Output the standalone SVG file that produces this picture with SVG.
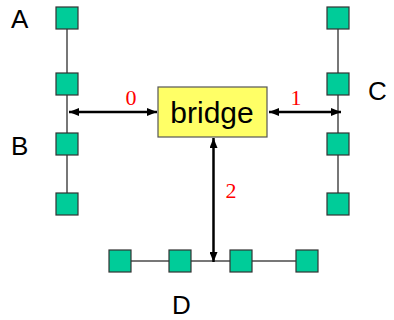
<svg xmlns="http://www.w3.org/2000/svg" width="394" height="320" viewBox="0 0 394 320">
<style>
.seg{stroke:#777;stroke-width:2;fill:none}
.st{fill:#00CC99;stroke:#333;stroke-width:1.2}
.lbl{font-family:"Liberation Sans",Arial,sans-serif;font-size:26px;fill:#000}
.num{font-family:"Liberation Serif","Times New Roman",serif;font-size:22px;fill:#FF0000;text-anchor:middle}
.arr{stroke:#000;stroke-width:2.5;fill:none;marker-start:url(#ah);marker-end:url(#ah)}
</style>
<defs>
<marker id="ah" markerUnits="userSpaceOnUse" viewBox="0 0 10 8" refX="10" refY="4" markerWidth="10" markerHeight="8" orient="auto-start-reverse">
<path d="M0,0 L10,4 L0,8 Z" fill="#000"/>
</marker>
</defs>
<g id="segment-lines">
<line class="seg" x1="67" y1="18" x2="67" y2="204"/>
<line class="seg" x1="338" y1="18" x2="338" y2="204"/>
<line class="seg" x1="120" y1="261" x2="307" y2="261"/>
</g>
<g id="lan-A">
<rect class="st" x="56" y="7" width="22" height="22"/>
<text class="lbl" x="11" y="28">A</text>
</g>
<g id="lan-B">
<rect class="st" x="56" y="73" width="22" height="22"/>
<rect class="st" x="56" y="133" width="22" height="22"/>
<rect class="st" x="56" y="193" width="22" height="22"/>
<text class="lbl" x="11" y="155">B</text>
</g>
<g id="lan-C">
<rect class="st" x="327" y="7" width="22" height="22"/>
<rect class="st" x="327" y="73" width="22" height="22"/>
<rect class="st" x="327" y="133" width="22" height="22"/>
<rect class="st" x="327" y="193" width="22" height="22"/>
<text class="lbl" x="368" y="100">C</text>
</g>
<g id="lan-D">
<rect class="st" x="109" y="250" width="22" height="22"/>
<rect class="st" x="169" y="250" width="22" height="22"/>
<rect class="st" x="230" y="250" width="22" height="22"/>
<rect class="st" x="296" y="250" width="22" height="22"/>
<text class="lbl" x="172" y="314">D</text>
</g>
<g id="bridge">
<rect x="158" y="87" width="109" height="50" fill="#FFFF66" stroke="#555" stroke-width="1.2"/>
<text x="212" y="123" font-family="'Liberation Sans',Arial,sans-serif" font-size="30" text-anchor="middle" fill="#000">bridge</text>
</g>
<g id="connectors">
<line class="arr" x1="69" y1="112" x2="157" y2="112"/>
<line class="arr" x1="269" y1="112" x2="341" y2="112"/>
<line class="arr" x1="213.5" y1="138" x2="213.5" y2="262"/>
<text class="num" x="131" y="105">0</text>
<text class="num" x="296" y="105">1</text>
<text class="num" x="231" y="198">2</text>
</g>
</svg>
